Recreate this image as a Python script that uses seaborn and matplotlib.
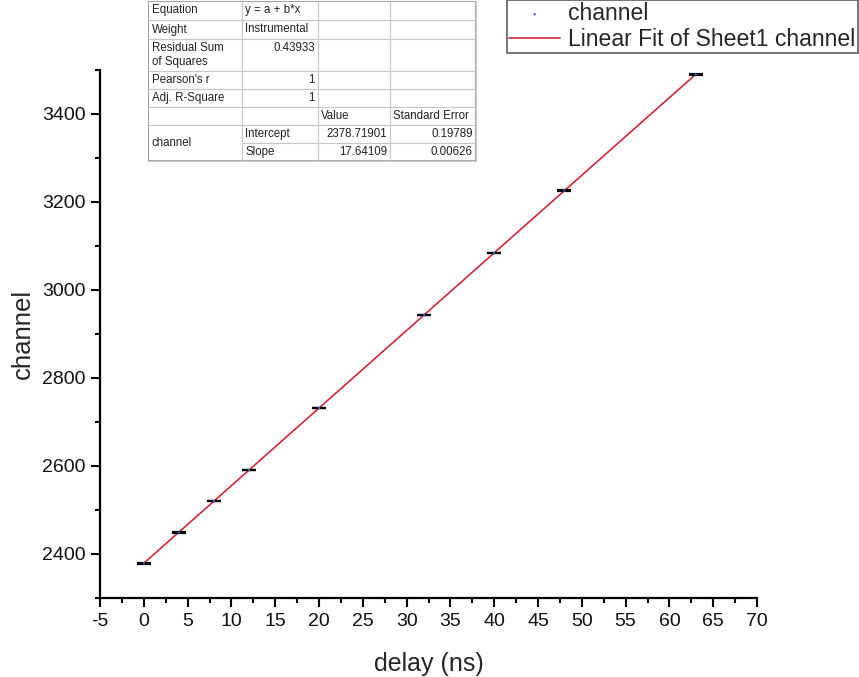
import matplotlib
matplotlib.use("Agg")
import matplotlib.pyplot as plt
import seaborn as sns
import pandas as pd
from matplotlib.ticker import MultipleLocator

# data
delay_ns = [0, 4, 8, 12, 20, 32, 40, 48, 63]
channel = [2379, 2449, 2520, 2591, 2732, 2943, 3084, 3226, 3490]
channel_err = [0.6, 0.6, 0.6, 0.6, 0.6, 0.6, 0.6, 0.6, 0.6]

x_ticks = list(range(-5, 75, 5))
y_ticks = [2400, 2600, 2800, 3000, 3200, 3400]

# fit report table (as printed on the chart)
table_rows = [
    ["Equation", "y = a + b*x", "", ""],
    ["Weight", "Instrumental", "", ""],
    ["Residual Sum\nof Squares", "0.43933\n", "", ""],
    ["Pearson's r", "1", "", ""],
    ["Adj. R-Square", "1", "", ""],
    ["", "", "Value", "Standard Error"],
    ["", "Intercept", "2378.71901", "0.19789"],
    ["", "Slope", "17.64109", "0.00626"],
]
right_aligned = [(2, 1), (3, 1), (4, 1), (6, 2), (6, 3), (7, 2), (7, 3)]
row_px = [19, 19, 32, 18, 18, 18, 18, 18]
col_px = [94, 76, 72, 86]

df = pd.DataFrame({"delay": delay_ns, "channel": channel, "err": channel_err})

sns.set_theme(style="ticks")
plt.rcParams["font.family"] = ["Liberation Sans", "DejaVu Sans"]
plt.rcParams["axes.unicode_minus"] = False

fig = plt.figure(figsize=(8.59, 6.77), dpi=100)
ax = fig.add_axes([100 / 859, 1 - 598 / 677, 657 / 859, 528 / 677])

# error bar caps (black dashes) and tiny blue points
ax.errorbar(df["delay"], df["channel"], yerr=df["err"], fmt="none",
            ecolor="black", elinewidth=1, capsize=5, capthick=1.6, zorder=3)
sns.scatterplot(data=df, x="delay", y="channel", ax=ax, s=3, color="#3b5bd6",
                edgecolor="none", label="channel", zorder=4)
sns.regplot(data=df, x="delay", y="channel", ax=ax, scatter=False, ci=None,
            color="#d4263a", line_kws={"lw": 1.2, "zorder": 2},
            label="Linear Fit of Sheet1 channel")

ax.set_xlim(-5, 70)
ax.set_ylim(2300, 3500)
ax.set_xticks(x_ticks)
ax.set_yticks(y_ticks)
ax.xaxis.set_minor_locator(MultipleLocator(2.5))
ax.yaxis.set_minor_locator(MultipleLocator(100))
ax.tick_params(which="major", direction="out", length=6.5, width=1.5, pad=4,
               labelsize=14, color="black", labelcolor="#111111")
ax.tick_params(which="minor", direction="out", length=3.5, width=1.5, color="black")
for side in ["top", "right"]:
    ax.spines[side].set_visible(False)
for side in ["left", "bottom"]:
    ax.spines[side].set_linewidth(1.6)
    ax.spines[side].set_color("black")

ax.set_xlabel("delay (ns)", fontsize=18, labelpad=16)
ax.set_ylabel("channel", fontsize=18.5, labelpad=5)

leg = ax.legend(loc="lower left", bbox_to_anchor=(507 / 859, 1 - 53 / 677),
                bbox_transform=fig.transFigure, fontsize=16.6, frameon=True,
                fancybox=False, borderaxespad=0, handlelength=2.2,
                borderpad=0.1, labelspacing=0.1, handletextpad=0.35,
                markerscale=1)
leg.get_frame().set_edgecolor("#333333")
leg.get_frame().set_linewidth(1.2)

# fit report table in the upper left corner
tab_ax = fig.add_axes([148 / 859, 1 - 161 / 677, 328 / 859, 160 / 677])
tab_ax.axis("off")
tab = tab_ax.table(cellText=table_rows, cellLoc="left", bbox=[0, 0, 1, 1])
tab.auto_set_font_size(False)
total_h = sum(row_px)
total_w = sum(col_px)
for (r, c), cell in tab.get_celld().items():
    cell.set_height(row_px[r] / total_h)
    cell.set_width(col_px[c] / total_w)
    cell.set_edgecolor("#c8c8c8")
    cell.set_linewidth(0.8)
    cell.set_text_props(fontsize=8.3, color="#222222")
    cell.PAD = 0.04
    if (r, c) in right_aligned:
        cell.set_text_props(ha="right")
# merged "channel" cell over the last two rows
tab[6, 0].visible_edges = "LRT"
tab[7, 0].visible_edges = "LRB"
tab_ax.text(0.012, 18 / total_h, "channel", transform=tab_ax.transAxes,
            ha="left", va="center", fontsize=8.3, color="#222222")
tab_ax.add_patch(plt.Rectangle((0, 0), 1, 1, transform=tab_ax.transAxes,
                               fill=False, edgecolor="#a0a0a0", lw=1.2))

fig.savefig("out.png", dpi=100)
